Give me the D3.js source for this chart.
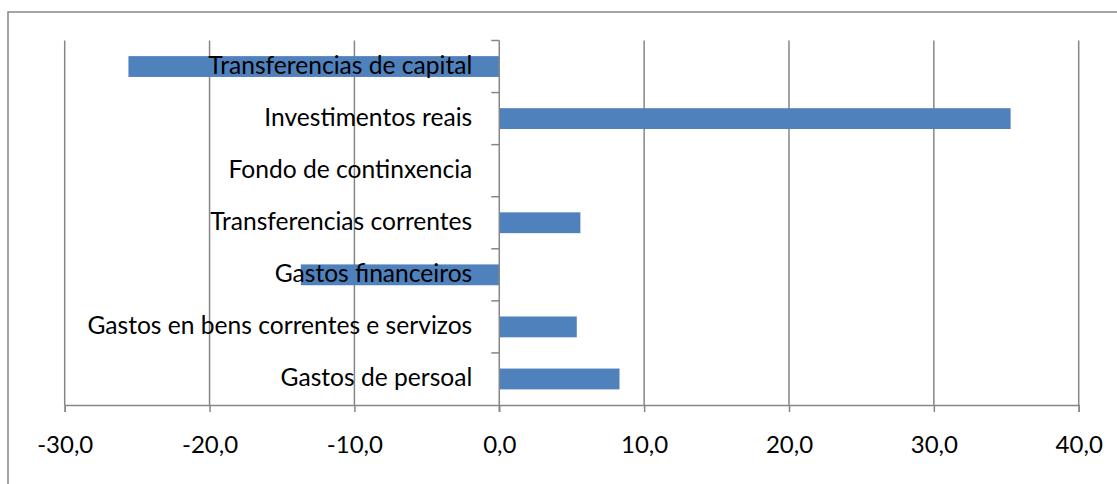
<!DOCTYPE html>
<html>
<head>
<meta charset="utf-8">
<script src="https://cdn.jsdelivr.net/npm/d3@7"></script>
<style>
  html, body { margin: 0; padding: 0; background: #fff; }
  svg { display: block; }
  text { font-family: Lato, "Open Sans", sans-serif; fill: #000; }
</style>
</head>
<body>
<svg id="chart" width="1117" height="484"></svg>
<script>
// Data (top to bottom as in the chart)
const categories = [
  "Transferencias de capital",
  "Investimentos reais",
  "Fondo de continxencia",
  "Transferencias correntes",
  "Gastos financeiros",
  "Gastos en bens correntes e servizos",
  "Gastos de persoal"
];
const values = [-25.6, 35.3, 0, 5.6, -13.7, 5.35, 8.3];
const xTicks = [-30, -20, -10, 0, 10, 20, 30, 40];
const tickLabels = ["-30,0", "-20,0", "-10,0", "0,0", "10,0", "20,0", "30,0", "40,0"];

const svg = d3.select("#chart");
const gridColor = "#868686";
const barColor = "#4F81BD";
const fontSize = 24;
const labelFontSize = 24.6;

const plot = { left: 64.7, right: 1078.7, top: 40.5, bottom: 405 };

// outer chart border
svg.append("rect")
  .attr("x", 8).attr("y", 12)
  .attr("width", 1300).attr("height", 700)
  .attr("fill", "none").attr("stroke", gridColor).attr("stroke-width", 1.5);

const x = d3.scaleLinear().domain([-30, 40]).range([plot.left, plot.right]);
const y = d3.scaleBand().domain(categories).range([plot.top, plot.bottom])
  .paddingInner(0.6).paddingOuter(0.3);

// vertical gridlines
svg.append("g").selectAll("line").data(xTicks.filter(d => d !== 0)).join("line")
  .attr("x1", d => x(d)).attr("x2", d => x(d))
  .attr("y1", plot.top).attr("y2", plot.bottom)
  .attr("stroke", gridColor).attr("stroke-width", 1.5);

// bars
svg.append("g").selectAll("rect").data(values).join("rect")
  .attr("x", d => x(Math.min(0, d)))
  .attr("width", d => Math.abs(x(d) - x(0)))
  .attr("y", (d, i) => y(categories[i]))
  .attr("height", y.bandwidth())
  .attr("fill", barColor);

// bottom axis
const xAxis = d3.axisBottom(x).tickValues(xTicks)
  .tickFormat((d, i) => tickLabels[i]).tickSize(7).tickPadding(24);
const gx = svg.append("g").attr("transform", `translate(0,${plot.bottom})`).call(xAxis);
gx.select(".domain").attr("stroke", gridColor).attr("stroke-width", 1.5);
gx.selectAll(".tick line").attr("stroke", gridColor).attr("stroke-width", 1.5);
gx.selectAll(".tick text").attr("font-size", fontSize).attr("font-family", "Lato").attr("fill", "#000");

// vertical category axis at zero
svg.append("line")
  .attr("x1", x(0)).attr("x2", x(0))
  .attr("y1", plot.top).attr("y2", plot.bottom + 7)
  .attr("stroke", gridColor).attr("stroke-width", 1.5);

const boundaries = d3.range(categories.length + 1).map(i => plot.top + i * (plot.bottom - plot.top) / categories.length);
svg.append("g").selectAll("line").data(boundaries.slice(0, -1)).join("line")
  .attr("x1", x(0) - 8).attr("x2", x(0))
  .attr("y1", d => d).attr("y2", d => d)
  .attr("stroke", gridColor).attr("stroke-width", 1.5);

// category labels (drawn over bars)
svg.append("g").selectAll("text").data(categories).join("text")
  .attr("x", x(0) - 27)
  .attr("y", d => y(d) + y.bandwidth() / 2)
  .attr("dy", "0.3em")
  .attr("text-anchor", "end")
  .attr("font-size", labelFontSize)
  .text(d => d);
</script>
</body>
</html>
